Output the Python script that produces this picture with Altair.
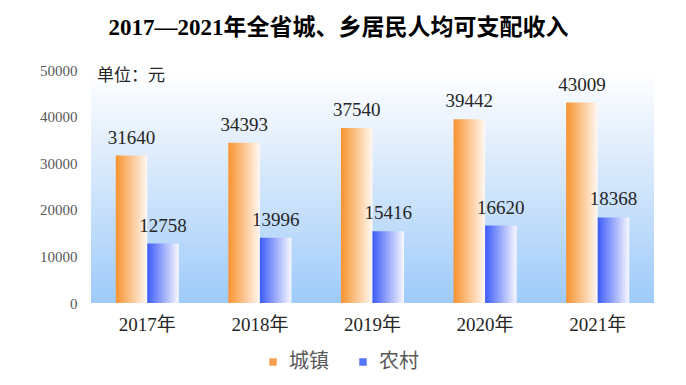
import altair as alt
import pandas as pd

years = ["2017年", "2018年", "2019年", "2020年", "2021年"]
urban = [31640, 34393, 37540, 39442, 43009]
rural = [12758, 13996, 15416, 16620, 18368]
series = ["城镇", "农村"]
y_ticks = [0, 10000, 20000, 30000, 40000, 50000]

rows = []
for yr, u, r in zip(years, urban, rural):
    rows.append({"year": yr, "series": "城镇", "value": u})
    rows.append({"year": yr, "series": "农村", "value": r})
df = pd.DataFrame(rows)

W, H = 563, 233
SERIF = "Liberation Serif, Noto Sans CJK SC"

def hgrad(c0, c1):
    return alt.LinearGradient(
        gradient="linear",
        stops=[alt.GradientStop(color=c0, offset=0), alt.GradientStop(color=c1, offset=1)],
        x1=0, x2=1, y1=0, y2=0,
    )

bg_grad = alt.LinearGradient(
    gradient="linear",
    stops=[
        alt.GradientStop(color="#ffffff", offset=0),
        alt.GradientStop(color="#dbeafc", offset=0.4),
        alt.GradientStop(color="#9ecbfa", offset=1),
    ],
    x1=0, x2=0, y1=0, y2=1,
)

background = alt.Chart(alt.Data(values=[{"k": 1}])).mark_rect(fill=bg_grad).encode(
    x=alt.value(0), x2=alt.value(W), y=alt.value(0), y2=alt.value(H)
)

unit = alt.Chart(alt.Data(values=[{"k": 1}])).mark_text(
    align="left", baseline="middle", fontSize=17, font="Noto Sans CJK SC", color="#262626"
).encode(x=alt.value(6), y=alt.value(6), text=alt.value("单位：元"))

xscale = alt.Scale(domain=years, paddingInner=0.44, paddingOuter=0.22)
base = alt.Chart(df).encode(
    x=alt.X(
        "year:N", scale=xscale, sort=years, title=None,
        axis=alt.Axis(labelAngle=0, labelFont=SERIF, labelFontSize=19, labelColor="#262626",
                      labelPadding=12, domain=False, ticks=False),
    ),
    xOffset=alt.XOffset("series:N", scale=alt.Scale(domain=series, paddingInner=0, paddingOuter=0)),
    y=alt.Y(
        "value:Q", scale=alt.Scale(domain=[0, 50000]), title=None,
        axis=alt.Axis(values=y_ticks, format="d", labelFont=SERIF, labelFontSize=15,
                      labelColor="#595959", labelPadding=14, domain=False, ticks=False, grid=False),
    ),
)

orange = base.transform_filter(alt.datum.series == "城镇").mark_bar(fill=hgrad("#f8932f", "#fff8f3"))
blue = base.transform_filter(alt.datum.series == "农村").mark_bar(fill=hgrad("#3d5cf8", "#f8f8ff"))

labels = base.mark_text(baseline="bottom", dy=-8, font=SERIF, fontSize=19, color="#262626").encode(
    text=alt.Text("value:Q", format="d")
)

legend_layer = base.mark_point(shape="square", filled=True, opacity=0).encode(
    color=alt.Color(
        "series:N",
        scale=alt.Scale(domain=series, range=["#f8a050", "#5575f8"]),
        legend=alt.Legend(
            orient="none", legendX=172, legendY=282, direction="horizontal", title=None,
            symbolType="square", symbolSize=56, symbolOpacity=1, symbolStrokeWidth=0,
            labelFont="Noto Sans CJK SC", labelFontSize=20, labelColor="#595959",
            labelOffset=6, columnPadding=24,
        ),
    )
)

chart = alt.layer(background, orange, blue, labels, legend_layer, unit).properties(
    width=W, height=H,
    title=alt.Title("2017—2021年全省城、乡居民人均可支配收入", font=SERIF, fontSize=23,
                    fontWeight="bold", color="#000000", anchor="middle", dx=-34, offset=23),
    autosize=alt.AutoSizeParams(type="none"),
    padding={"left": 83, "top": 62, "right": 24, "bottom": 74},
).configure_view(stroke=None)

chart.save("out.html", embed_options={"renderer": "svg", "actions": False})
